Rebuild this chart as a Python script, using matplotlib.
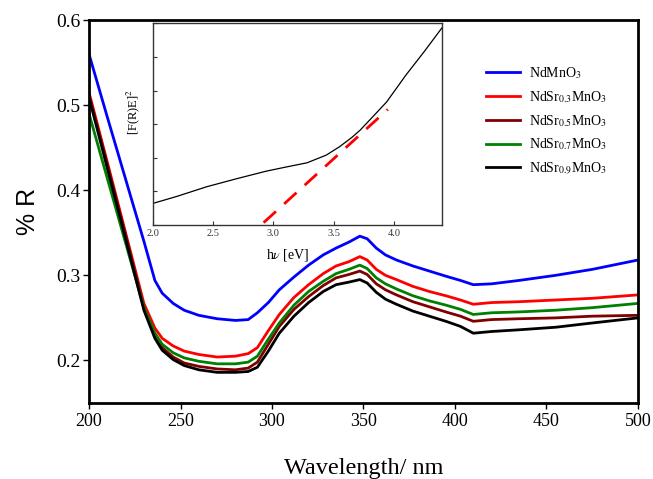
import matplotlib
matplotlib.use("Agg")
import matplotlib.pyplot as plt

plt.rcParams['font.family'] = ['Liberation Serif', 'DejaVu Serif']
plt.rcParams['mathtext.fontset'] = 'stix'

wl = [200, 210, 220, 230, 236, 240, 246, 252, 260, 270, 280, 287, 292, 298, 304, 312, 320, 328,
      335, 342, 348, 352, 357, 362, 368, 377, 386, 395, 403, 410, 420, 435, 455, 475, 500]

nd = [0.560, 0.486, 0.413, 0.340, 0.294, 0.279, 0.267, 0.259, 0.253, 0.249, 0.247, 0.248, 0.256, 0.268,
      0.283, 0.298, 0.312, 0.324, 0.332, 0.339, 0.346, 0.343, 0.332, 0.324, 0.318, 0.311, 0.305, 0.299,
      0.294, 0.289, 0.290, 0.294, 0.300, 0.307, 0.318]
sr03 = [0.515, 0.433, 0.350, 0.267, 0.238, 0.226, 0.217, 0.211, 0.207, 0.204, 0.205, 0.208, 0.215, 0.235,
        0.254, 0.274, 0.289, 0.302, 0.311, 0.316, 0.322, 0.318, 0.307, 0.300, 0.295, 0.287, 0.281, 0.276,
        0.271, 0.266, 0.268, 0.269, 0.271, 0.273, 0.277]
sr05 = [0.512, 0.430, 0.347, 0.262, 0.229, 0.215, 0.204, 0.197, 0.193, 0.190, 0.189, 0.191, 0.198, 0.219,
        0.240, 0.260, 0.275, 0.288, 0.297, 0.301, 0.305, 0.301, 0.290, 0.283, 0.277, 0.269, 0.263, 0.257,
        0.252, 0.246, 0.248, 0.249, 0.250, 0.252, 0.253]
sr07 = [0.490, 0.414, 0.338, 0.262, 0.232, 0.219, 0.209, 0.203, 0.199, 0.196, 0.196, 0.198, 0.205, 0.225,
        0.244, 0.265, 0.281, 0.293, 0.302, 0.307, 0.312, 0.308, 0.297, 0.290, 0.284, 0.276, 0.270, 0.265,
        0.260, 0.254, 0.256, 0.257, 0.259, 0.262, 0.267]
sr09 = [0.509, 0.426, 0.343, 0.259, 0.226, 0.212, 0.201, 0.194, 0.189, 0.186, 0.186, 0.187, 0.192, 0.211,
        0.232, 0.252, 0.268, 0.281, 0.289, 0.292, 0.295, 0.291, 0.280, 0.272, 0.266, 0.258, 0.252, 0.246,
        0.240, 0.232, 0.234, 0.236, 0.239, 0.244, 0.250]

labels = [r'NdMnO$_3$', r'NdSr$_{0.3}$MnO$_3$', r'NdSr$_{0.5}$MnO$_3$',
          r'NdSr$_{0.7}$MnO$_3$', r'NdSr$_{0.9}$MnO$_3$']
colors = ['#0000ff', '#ff0000', '#800000', '#008000', '#000000']
series = [nd, sr03, sr05, sr07, sr09]

# inset data
ev = [2.0, 2.2, 2.45, 2.7, 2.94, 3.1, 3.28, 3.44, 3.55, 3.65, 3.72, 3.82, 3.94, 4.1, 4.25, 4.4]
fre = [0.64, 0.85, 1.14, 1.38, 1.60, 1.72, 1.85, 2.08, 2.33, 2.60, 2.82, 3.20, 3.66, 4.46, 5.15, 5.87]
fit_ev = [2.92, 3.95]
fit_y = [0.07, 3.44]

fig = plt.figure(figsize=(6.53, 4.79), dpi=100)
ax = fig.add_axes([0.1363, 0.1587, 0.8407, 0.7995])
for s, c, l in zip(series, colors, labels):
    ax.plot(wl, s, color=c, lw=2, label=l)
ax.set_xlim(200, 500)
ax.set_ylim(0.15, 0.6)
ax.set_xticks([200, 250, 300, 350, 400, 450, 500])
ax.set_yticks([0.2, 0.3, 0.4, 0.5, 0.6])
ax.tick_params(direction='out', length=4, width=1, labelsize=13)
ax.tick_params(axis='y', labelsize=14, pad=2)
for sp in ['top', 'right', 'bottom', 'left']:
    ax.spines[sp].set_linewidth(2)
ax.set_xlabel('Wavelength/ nm', fontsize=17.5, labelpad=20)
ax.set_ylabel('% R', fontsize=18, family=['Liberation Sans'], labelpad=12)
leg = ax.legend(loc='upper left', bbox_to_anchor=(0.700, 0.915), frameon=False, fontsize=10,
                handlelength=2.45, labelspacing=0.58, handletextpad=0.65)

ins = fig.add_axes([0.2338, 0.5303, 0.4432, 0.421])
ins.plot(ev, fre, color='black', lw=0.9)
ins.plot(fit_ev, fit_y, color='red', lw=2, dashes=(6, 4))
ins.set_xlim(2.0, 4.4)
ins.set_ylim(0, 6)
ins.set_xticks([2.0, 2.5, 3.0, 3.5, 4.0])
ins.set_xticklabels(['2.0', '2.5', '3.0', '3.5', '4.0'])
ins.set_yticks([0, 1, 2, 3, 4, 5, 6])
ins.set_yticklabels([])
ins.tick_params(direction='in', length=3, width=0.8, labelsize=7.5, colors='#333333', pad=3)
for sp in ins.spines.values():
    sp.set_linewidth(1)
    sp.set_color('#333333')
ins.set_xlabel(r'h$\nu$ [eV]', fontsize=10)
ins.xaxis.set_label_coords(0.465, -0.11)
ins.set_ylabel(r'[F(R)E]$^2$', fontsize=9)
ins.yaxis.set_label_coords(-0.037, 0.56)

fig.savefig('out.png', dpi=100)
